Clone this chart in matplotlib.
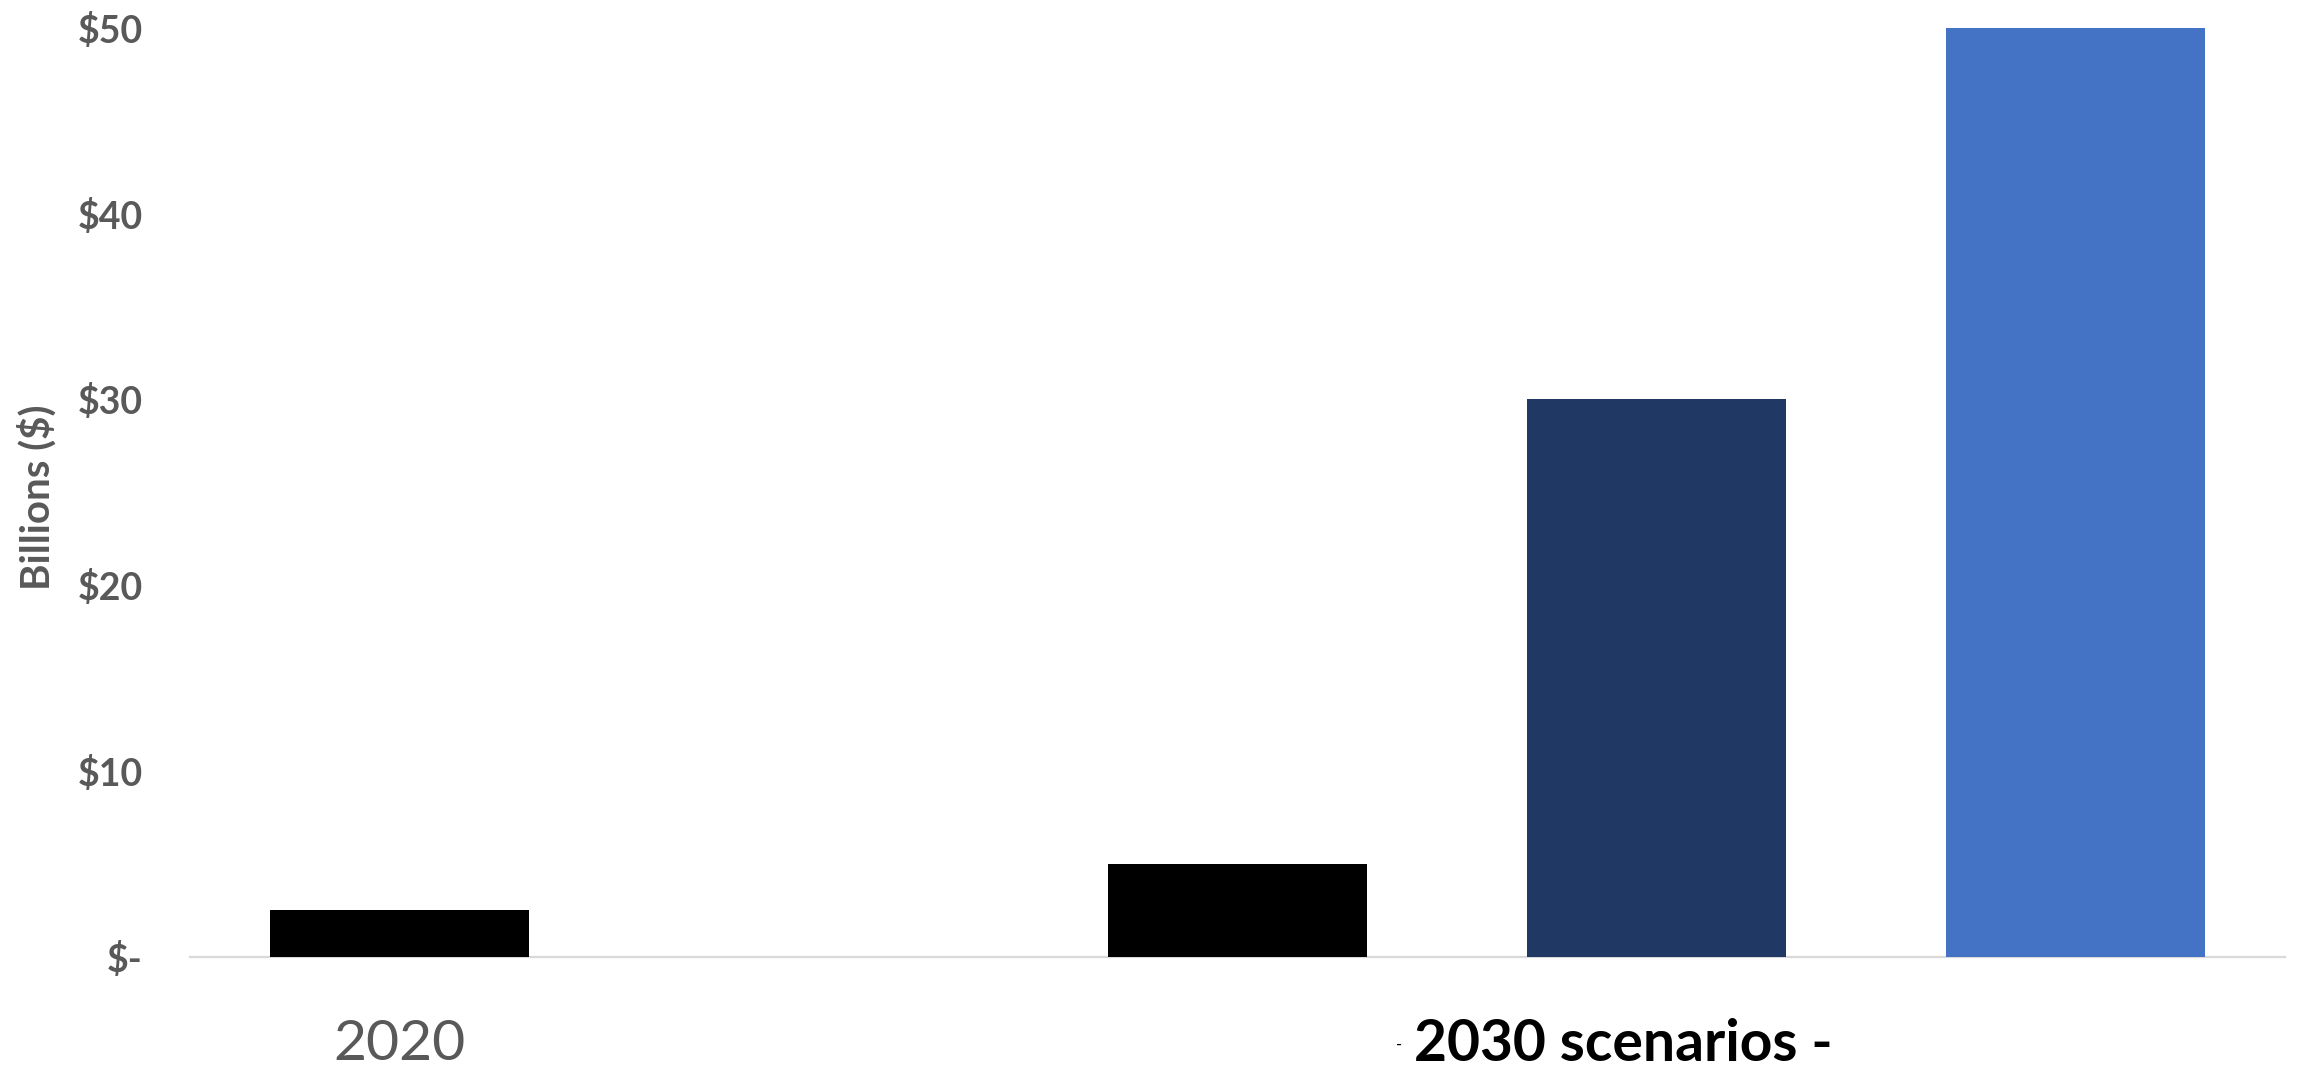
import matplotlib
matplotlib.use('Agg')
import matplotlib.pyplot as plt
from matplotlib.ticker import FixedLocator

plt.rcParams.update({
    'font.family': ['Lato', 'DejaVu Sans'],
    'figure.dpi': 100,
})

# bar slots: 2020, (gap), then the three 2030 scenarios
positions = [0, 2, 3, 4]
values = [2.5, 5, 30, 50]
colors = ['#000000', '#000000', '#203864', '#4472C4']
ytick_vals = [0, 10, 20, 30, 40, 50]
ytick_labels = ['$-', '$10', '$20', '$30', '$40', '$50']
GRAY = '#595959'

fig = plt.figure(figsize=(22.97, 10.68))
ax = fig.add_axes([0.0827, 0.1043, 0.9121, 0.8697])

ax.bar(positions, values, width=0.62, color=colors, zorder=2)

ax.set_xlim(-0.5, 4.5)
ax.set_ylim(0, 50)
ax.yaxis.set_major_locator(FixedLocator(ytick_vals))
ax.set_yticklabels(ytick_labels, fontsize=27, fontweight='bold', color=GRAY)
ax.tick_params(axis='y', length=0, pad=34)
ax.set_xticks([])

for side in ['top', 'right', 'left']:
    ax.spines[side].set_visible(False)
ax.spines['bottom'].set_color('#d9d9d9')
ax.spines['bottom'].set_linewidth(1.6)
ax.spines['bottom'].set_zorder(1)

fig.text(0.016, 0.534, 'Billions ($)', rotation=90, fontsize=29,
         fontweight='bold', color=GRAY, ha='center', va='center')

trans = ax.get_xaxis_transform()
ax.text(0, -0.095, '2020', transform=trans, ha='center', va='center',
        fontsize=41, color=GRAY)
ax.text(2.385, -0.095, '-', transform=trans, ha='center', va='center',
        fontsize=12, color='black')
ax.text(2.92, -0.095, '2030 scenarios -', transform=trans, ha='center',
        va='center', fontsize=41, fontweight='bold', color='black')

fig.savefig('out.png', dpi=100)
